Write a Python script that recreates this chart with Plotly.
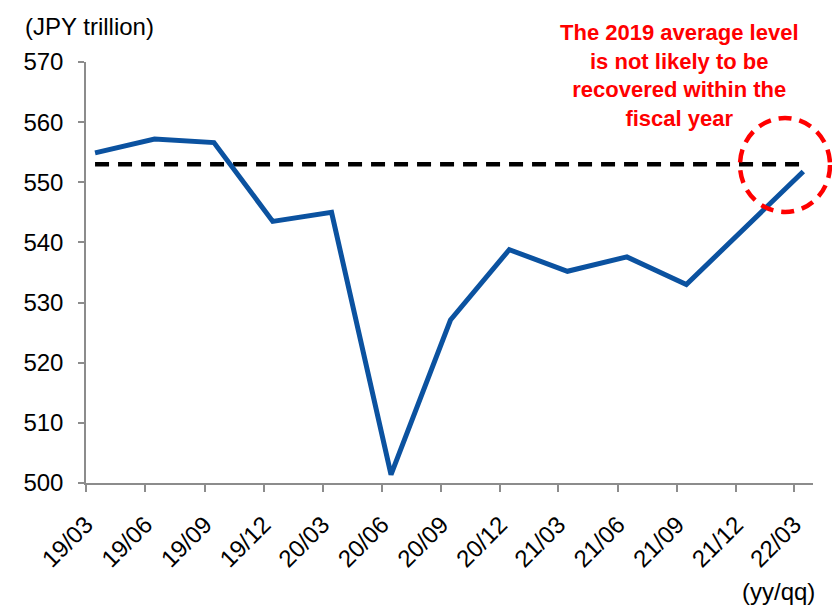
import pandas as pd
import plotly.graph_objects as go

# Quarter labels (yy/mm) and nominal GDP level, JPY trillion
quarters = ["19/03", "19/06", "19/09", "19/12", "20/03", "20/06", "20/09",
            "20/12", "21/03", "21/06", "21/09", "21/12", "22/03"]
gdp = [554.9, 557.2, 556.6, 543.5, 545.0, 501.4, 527.1,
       538.8, 535.2, 537.6, 533.0, 542.4, 551.8]
avg_2019 = [553.0] * len(quarters)

y_ticks = [500, 510, 520, 530, 540, 550, 560, 570]

# tick at the first of each quarter-end month, value plotted mid-month
tick_dates = [pd.Timestamp(f"20{q[:2]}-{q[3:]}-01") for q in quarters]
point_dates = [d + pd.Timedelta(days=14) for d in tick_dates]

FONT = "Liberation Sans, Arial, sans-serif"
AXIS_GREY = "#8c8c8c"
TXT = 24

fig = go.Figure()
fig.add_trace(go.Scatter(
    x=point_dates, y=avg_2019, mode="lines",
    line=dict(color="black", width=4.5, dash="14px,9px"),
    hoverinfo="skip", showlegend=False,
))
fig.add_trace(go.Scatter(
    x=point_dates, y=gdp, mode="lines",
    line=dict(color="#0b52a0", width=5),
    showlegend=False,
))

fig.update_layout(
    width=832, height=606,
    margin=dict(l=86, r=19, t=62, b=123),
    paper_bgcolor="white", plot_bgcolor="white",
    font=dict(family=FONT, size=TXT, color="black"),
    xaxis=dict(
        type="date",
        range=[tick_dates[0], pd.Timestamp("2022-03-30")],
        tickmode="array", tickvals=tick_dates, ticktext=quarters,
        tickangle=-45,
        showgrid=False, zeroline=False,
        showline=True, linecolor=AXIS_GREY, linewidth=2,
        ticks="outside", ticklen=7, tickwidth=1.5, tickcolor=AXIS_GREY,
        ticklabelstandoff=9,
        tickfont=dict(size=TXT),
    ),
    yaxis=dict(
        range=[500, 570],
        tickmode="array", tickvals=y_ticks,
        showgrid=False, zeroline=False,
        showline=True, linecolor=AXIS_GREY, linewidth=1.5,
        ticks="outside", ticklen=6, tickwidth=1.5, tickcolor=AXIS_GREY,
        ticklabelstandoff=10,
        tickfont=dict(size=TXT),
    ),
    annotations=[
        dict(text="(JPY trillion)", xref="paper", yref="paper",
             x=-0.086, y=1.085, xanchor="left", yanchor="middle",
             showarrow=False, font=dict(size=TXT)),
        dict(text="(yy/qq)", xref="paper", yref="paper",
             x=1.006, y=-0.258, xanchor="right", yanchor="middle",
             showarrow=False, font=dict(size=TXT)),
        dict(text="<b>The 2019 average level<br>is not likely to be<br>"
                  "recovered within the<br>fiscal year</b>",
             xref="paper", yref="paper", x=0.817, y=0.967,
             xanchor="center", yanchor="middle", align="center",
             showarrow=False, font=dict(size=22, color="#ff0000")),
    ],
    shapes=[
        dict(type="circle", xref="paper", yref="paper",
             x0=0.8996, x1=1.0234, y0=0.6437, y1=0.867,
             line=dict(color="#ff0000", width=4.5, dash="13px,8px")),
    ],
)

fig.write_html("out.html")
